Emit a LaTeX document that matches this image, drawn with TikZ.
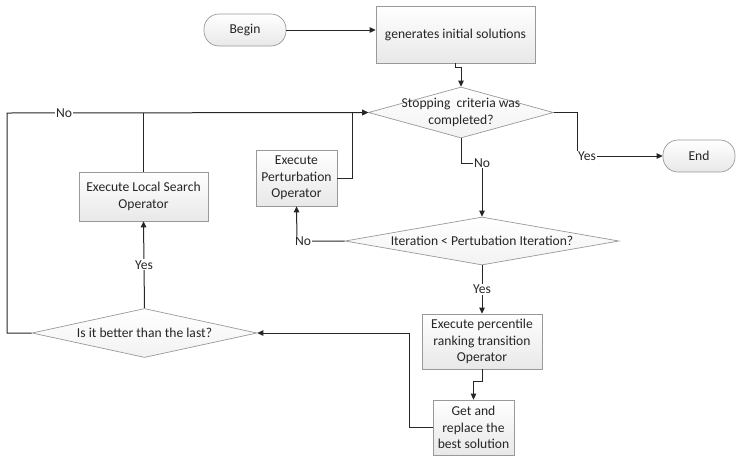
\documentclass[tikz,border=0pt]{standalone}
\usepackage{fontspec}
\setmainfont{Carlito}
\usetikzlibrary{shapes.geometric,arrows.meta,calc}
\begin{document}
\begin{tikzpicture}[x=1pt,y=-1pt,
  font=\fontsize{13.6}{16.3}\selectfont, text=black!85,
  shp/.style={draw=black!40, line width=0.7pt, top color=white, bottom color=black!9, inner sep=0pt, align=center},
  box/.style={shp, rectangle},
  term/.style={shp, rectangle, rounded corners=15pt},
  dia/.style={draw=black!40, line width=0.7pt, top color=white, bottom color=black!5, diamond, inner sep=0pt},
  conn/.style={draw=black!85, line width=1pt},
  arr/.style={conn, -{Triangle[length=6pt,width=5.5pt]}},
  lbl/.style={fill=white, inner sep=1pt}]
\useasboundingbox (0,0) rectangle (736,459);

% nodes
\node[term, minimum width=82pt, minimum height=32pt] (begin) at (245,30) {Begin};
\node[box, minimum width=159pt, minimum height=57pt] (init) at (455.5,34.5) {generates initial solutions};
\node[dia, minimum width=185pt, minimum height=51pt] (stop) at (461,112.5) {};
\node[align=center] (stoptxt) at (461,112.5) {Stopping\ \ criteria was\\completed?};
\node[term, minimum width=72pt, minimum height=32pt] (end) at (699,156) {End};
\node[box, minimum width=81pt, minimum height=56pt] (pert) at (296.5,178) {Execute\\Perturbation\\Operator};
\node[box, minimum width=129pt, minimum height=49pt] (ls) at (143.5,196.5) {Execute Local Search\\Operator};
\node[dia, minimum width=274pt, minimum height=48pt] (iter) at (482,241) {};
\node (itertxt) at (482,241) {Iteration < Pertubation Iteration?};
\node[dia, minimum width=225pt, minimum height=49pt] (better) at (144.5,333) {};
\node (bettertxt) at (144.5,333) {Is it better than the last?};
\node[box, minimum width=120pt, minimum height=55pt] (perc) at (482,341.5) {Execute percentile\\ranking transition\\Operator};
\node[box, minimum width=81pt, minimum height=55pt] (get) at (473.5,427.5) {Get and\\replace the\\best solution};

% coordinates
\coordinate (yc) at (577,156);
\coordinate (n1) at (482,163);
\coordinate (n2) at (297,241);
\coordinate (p1) at (352,178);
\coordinate (j1) at (143.5,113);
\coordinate (c1) at (7,333);
\coordinate (c2) at (7,113);
\coordinate (g1) at (409,427.5);

% connectors
\draw[arr] (begin.east) -- (init.west |- begin.east);
\draw[arr] (init.south) -- ++(0,4) -| (stop.north);
\draw[arr] (stop.east) -| (yc) -- (end.west);
\node[lbl, anchor=west] (yes1) at (yc) {Yes};
\draw[arr] (stop.south) |- (n1) -- (iter.north);
\node[lbl] (no1) at (n1) {No};
\draw[arr] (iter.south) -- node[lbl] (yes2) {Yes} (perc.north);
\draw[arr] (perc.south) -- ++(0,12) -| (get.north);
\draw[arr] (get.west) -- (g1) |- (better.east);
\draw[arr] (better.north) -- node[lbl] (yes3) {Yes} (ls.south);
\draw[arr] (iter.west) -- (n2) -- (pert.south);
\node[lbl] (no2) at ($(n2)+(6,0)$) {No};
\draw[arr] (pert.east) -- (p1) |- (stop.west);
\draw[conn] (ls.north) -- (j1);
\draw[arr] (better.west) -- (c1) -- (c2) -- (stop.west);
\node[lbl] (no3) at (64,113) {No};
\end{tikzpicture}
\end{document}
